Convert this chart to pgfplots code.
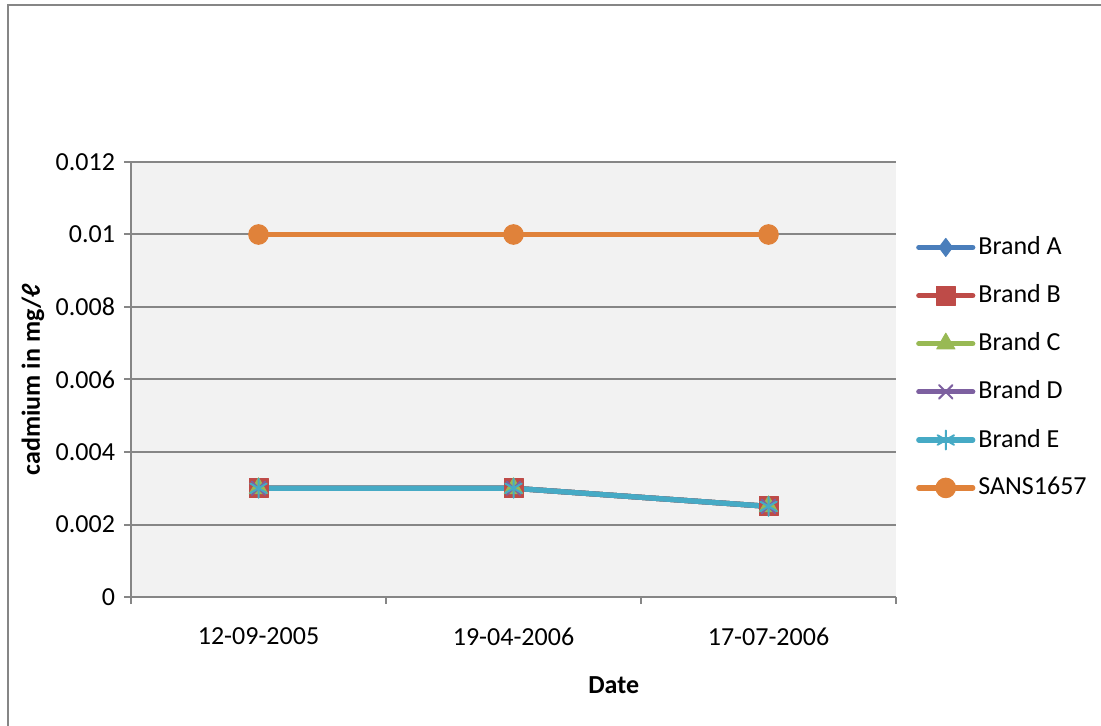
\documentclass[border=0pt]{standalone}
\usepackage{fontspec}
\setmainfont{Carlito}
\usepackage{pgfplots}
\pgfplotsset{compat=1.18}

\definecolor{brandA}{HTML}{4A7EBB}
\definecolor{brandB}{HTML}{BE4B48}
\definecolor{brandC}{HTML}{98B954}
\definecolor{brandD}{HTML}{7D60A0}
\definecolor{brandE}{HTML}{46AAC5}
\definecolor{sans}{HTML}{E0823A}
\definecolor{axisgray}{HTML}{868686}
\definecolor{plotbg}{HTML}{F2F2F2}

\newcommand{\chartfont}{\fontsize{13pt}{15.6pt}\selectfont}

\begin{document}
\chartfont
\begin{tikzpicture}
\begin{axis}[
  at={(65.5pt,-298.5pt)}, anchor=south west,
  scale only axis, width=382.5pt, height=217.5pt,
  xmin=-0.5, xmax=2.5, ymin=0, ymax=0.012,
  scaled y ticks=false,
  axis x line=bottom, axis y line=left,
  axis line style={-, axisgray, line width=1pt},
  axis background/.style={fill=plotbg},
  ymajorgrids, grid style={axisgray, line width=1pt},
  ytick={0,0.002,0.004,0.006,0.008,0.01,0.012},
  yticklabels={0,0.002,0.004,0.006,0.008,0.01,0.012},
  xtick={0,1,2},
  xticklabels={12-09-2005,19-04-2006,17-07-2006},
  minor xtick={-0.5,0.5,1.5,2.5},
  major x tick style={draw=none},
  tick align=outside,
  major tick length=3.5pt, minor tick length=3.5pt,
  tick style={axisgray, line width=1pt},
  ticklabel style={font=\chartfont},
  xticklabel style={yshift=-7.5pt},
  xlabel={\bfseries Date},
  xlabel style={font=\chartfont, at={(rel axis cs:0.631,-0.202)}, anchor=center},
  ylabel={\bfseries cadmium in mg/ℓ},
  ylabel style={font=\chartfont, at={(rel axis cs:-0.128,0.5)}, anchor=center},
  legend style={at={(rel axis cs:1.018,0.839)}, anchor=north west,
    draw=none, fill=none, font=\chartfont, row sep=13.1pt,
    nodes={inner xsep=1.5pt, inner ysep=0pt}},
  legend cell align=left,
  legend image code/.code={%
    \draw[mark repeat=2, mark phase=2, line cap=round]
      plot coordinates {(0pt,0pt) (13.5pt,0pt) (27pt,0pt)};},
  every axis plot/.append style={line width=2.6pt, line cap=round, line join=round},
]
\addplot[brandA, mark=diamond*, mark size=4.5pt, mark options={solid, line width=0.5pt}]
  coordinates {(0,0.003) (1,0.003) (2,0.0025)};
\addlegendentry{Brand A}
\addplot[brandB, mark=square*, mark size=4.75pt, mark options={solid, line width=0.5pt}]
  coordinates {(0,0.003) (1,0.003) (2,0.0025)};
\addlegendentry{Brand B}
\addplot[brandC, mark=triangle*, mark size=5.25pt, mark options={solid, line width=0.5pt}]
  coordinates {(0,0.003) (1,0.003) (2,0.0025)};
\addlegendentry{Brand C}
\addplot[brandD, mark=x, mark size=4.75pt, mark options={solid, line width=1pt}]
  coordinates {(0,0.003) (1,0.003) (2,0.0025)};
\addlegendentry{Brand D}
\addplot[brandE, mark=asterisk, mark size=4.75pt, mark options={solid, line width=1pt}]
  coordinates {(0,0.003) (1,0.003) (2,0.0025)};
\addlegendentry{Brand E}
\addplot[sans, mark=*, mark size=4.9pt, mark options={solid, line width=0.5pt}]
  coordinates {(0,0.01) (1,0.01) (2,0.01)};
\addlegendentry{SANS1657}
\end{axis}
% chart area frame
\draw[axisgray, line width=1pt] (560pt,-2.75pt) -- (3.75pt,-2.75pt) -- (3.75pt,-370pt);
\pgfresetboundingbox
\useasboundingbox (0pt,0pt) rectangle (550.5pt,-363pt);
\end{tikzpicture}
\end{document}
